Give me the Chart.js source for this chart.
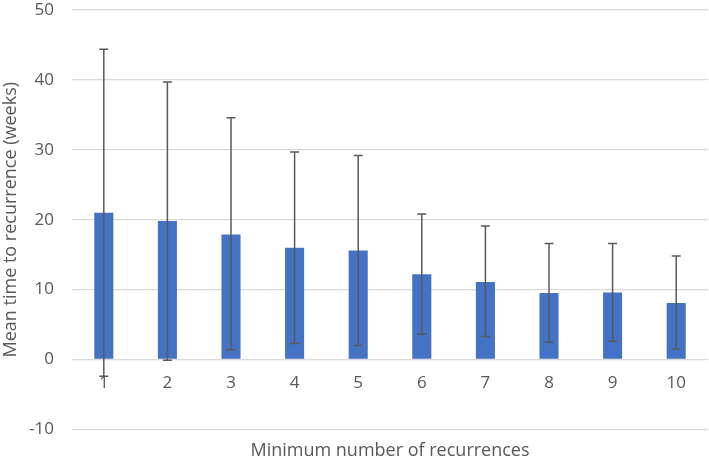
<!DOCTYPE html>
<html>
<head>
<meta charset="utf-8">
<script src="https://cdn.jsdelivr.net/npm/chart.js@4/dist/chart.umd.min.js"></script>
<style>
  html, body { margin: 0; padding: 0; background: #ffffff; }
  #wrap { width: 709px; height: 459px; }
</style>
</head>
<body>
<div id="wrap"><canvas id="c" width="709" height="459"></canvas></div>
<script>
const categories = ['1', '2', '3', '4', '5', '6', '7', '8', '9', '10'];
const meanWeeks = [21.0, 19.8, 17.9, 16.0, 15.6, 12.2, 11.1, 9.5, 9.6, 8.1];
const errUpper = [44.4, 39.7, 34.6, 29.7, 29.2, 20.8, 19.1, 16.6, 16.6, 14.8];
const errLower = [-2.4, -0.1, 1.4, 2.3, 2.0, 3.6, 3.3, 2.5, 2.6, 1.5];
const yTicks = [-10, 0, 10, 20, 30, 40, 50];

const textColor = '#595959';
const fontFamily = '"Open Sans", "DejaVu Sans", sans-serif';

const errorBarPlugin = {
  id: 'errorBars',
  afterDatasetsDraw(chart) {
    const ctx = chart.ctx;
    const meta = chart.getDatasetMeta(0);
    const y = chart.scales.y;
    ctx.save();
    ctx.strokeStyle = '#595959';
    ctx.lineWidth = 1.5;
    meta.data.forEach((bar, i) => {
      const x = bar.x;
      const yHi = y.getPixelForValue(errUpper[i]);
      const yLo = y.getPixelForValue(errLower[i]);
      const cap = 4.5;
      ctx.beginPath();
      ctx.moveTo(x, yHi); ctx.lineTo(x, yLo);
      ctx.moveTo(x - cap, yHi); ctx.lineTo(x + cap, yHi);
      ctx.moveTo(x - cap, yLo); ctx.lineTo(x + cap, yLo);
      ctx.stroke();
    });
    ctx.restore();
  }
};

function noPad(axis) {
  axis.paddingTop = 0; axis.paddingBottom = 0;
  axis.paddingLeft = 0; axis.paddingRight = 0;
}

new Chart(document.getElementById('c'), {
  type: 'bar',
  data: {
    labels: categories,
    datasets: [{
      data: meanWeeks,
      backgroundColor: '#4472C4',
      borderWidth: 0,
      categoryPercentage: 1.0,
      barPercentage: 0.3
    }]
  },
  options: {
    responsive: false,
    animation: false,
    devicePixelRatio: 1,
    layout: { padding: { top: 10, right: 1, bottom: -3, left: 0 } },
    plugins: {
      legend: { display: false },
      tooltip: { enabled: false },
      title: { display: false }
    },
    scales: {
      x: {
        position: { y: 0 },
        afterFit: noPad,
        grid: { display: false, drawTicks: false },
        border: { display: false },
        ticks: {
          color: textColor,
          font: { family: fontFamily, size: 17 },
          padding: 13,
          maxRotation: 0
        }
      },
      x2: {
        type: 'category',
        position: 'bottom',
        labels: categories,
        afterFit: noPad,
        grid: { display: false, drawTicks: false },
        border: { display: false },
        ticks: { display: false },
        title: {
          display: true,
          text: 'Minimum number of recurrences',
          color: textColor,
          font: { family: fontFamily, size: 18 },
          padding: { top: 11, bottom: 0 }
        }
      },
      y: {
        min: -10,
        max: 50,
        afterBuildTicks(axis) { axis.ticks = yTicks.map(v => ({ value: v })); },
        afterFit(axis) { axis.width = 72; noPad(axis); },
        grid: { color: '#d9d9d9', lineWidth: 1.3, drawTicks: false },
        border: { display: false },
        ticks: {
          color: textColor,
          font: { family: fontFamily, size: 17 },
          padding: 18
        },
        title: {
          display: true,
          text: 'Mean time to recurrence (weeks)',
          color: textColor,
          font: { family: fontFamily, size: 18 },
          padding: { top: 0, bottom: 4 }
        }
      }
    }
  },
  plugins: [errorBarPlugin]
});
</script>
</body>
</html>
